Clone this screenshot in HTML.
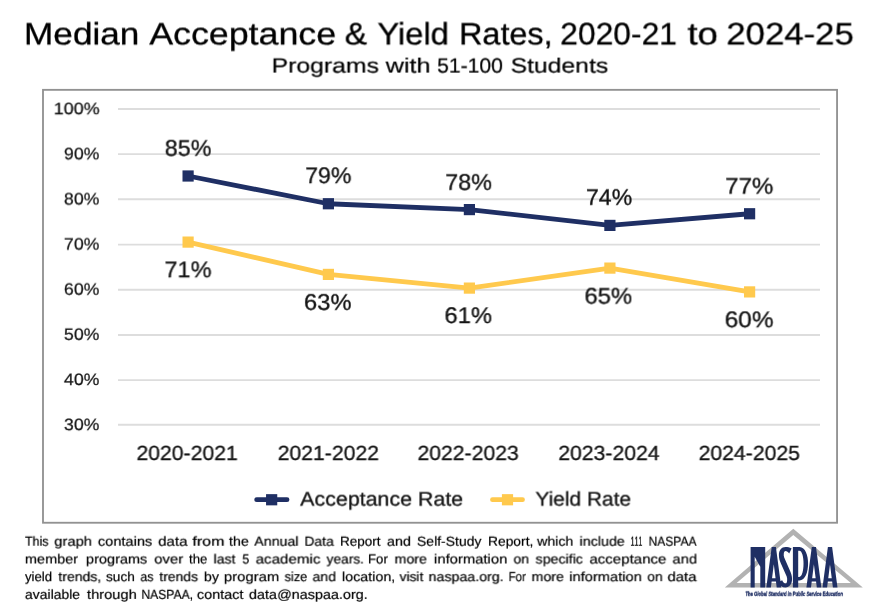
<!DOCTYPE html>
<html><head><meta charset="utf-8"><style>
html,body{margin:0;padding:0;background:#fff;}
body{width:880px;height:608px;position:relative;overflow:hidden;font-family:"Liberation Sans",sans-serif;color:#000;text-rendering:geometricPrecision;}
.w{position:absolute;white-space:nowrap;line-height:1;transform-origin:0 0;will-change:transform;}
svg{position:absolute;left:0;top:0;}
</style></head><body>
<svg width="880" height="608" viewBox="0 0 880 608">
<rect x="43" y="89.85" width="794.05" height="432.9" fill="none" stroke="#929292" stroke-width="1.85"/>
<g stroke="#dddddd" stroke-width="1.9">
<line x1="118" x2="820" y1="109" y2="109"/>
<line x1="118" x2="820" y1="154.1" y2="154.1"/>
<line x1="118" x2="820" y1="199.2" y2="199.2"/>
<line x1="118" x2="820" y1="244.6" y2="244.6"/>
<line x1="118" x2="820" y1="289.7" y2="289.7"/>
<line x1="118" x2="820" y1="335" y2="335"/>
<line x1="118" x2="820" y1="380.1" y2="380.1"/>
<line x1="118" x2="820" y1="424.8" y2="424.8"/>
</g>
<polyline fill="none" stroke="#1f2f64" stroke-width="4.8" stroke-linejoin="round" points="188.100,176 328.400,203.750 469.400,209.600 609.900,225.400 749.600,213.750"/>
<g fill="#1f2f64">
<rect x="182.50" y="170.40" width="11.2" height="11.2"/>
<rect x="322.80" y="198.15" width="11.2" height="11.2"/>
<rect x="463.80" y="204.00" width="11.2" height="11.2"/>
<rect x="604.30" y="219.80" width="11.2" height="11.2"/>
<rect x="744.00" y="208.15" width="11.2" height="11.2"/>
</g>
<polyline fill="none" stroke="#ffc94d" stroke-width="4.8" stroke-linejoin="round" points="188.100,242.100 328.400,274.400 469.400,288.100 609.900,268.100 749.600,291.900"/>
<g fill="#ffc94d">
<rect x="182.50" y="236.50" width="11.2" height="11.2"/>
<rect x="322.80" y="268.80" width="11.2" height="11.2"/>
<rect x="463.80" y="282.50" width="11.2" height="11.2"/>
<rect x="604.30" y="262.50" width="11.2" height="11.2"/>
<rect x="744.00" y="286.30" width="11.2" height="11.2"/>
</g>
<!-- legend -->
<line x1="256.700" x2="287" y1="499.700" y2="499.700" stroke="#1f2f64" stroke-width="4.8" stroke-linecap="round"/>
<rect x="266.05" y="494.15" width="11.2" height="11.2" fill="#1f2f64"/>
<line x1="492.500" x2="522.500" y1="499.700" y2="499.700" stroke="#ffc94d" stroke-width="4.8" stroke-linecap="round"/>
<rect x="501.90" y="494.15" width="11.2" height="11.2" fill="#ffc94d"/>
<!-- logo -->
<g id="logo">
<path d="M793.3 528.800 L862.800 587.400 L724.800 587.400 Z M793.3 535 L736.6 583.1 L850.9 583.1 Z" fill="#b2b2b2" fill-rule="evenodd"/>
<defs><path id="gA" fill-rule="evenodd" d="M-7.5 587.4 L-2.1 547.1 H2.1 L7.5 587.4 H2.9 L2.16 581.5 H-2.16 L-2.9 587.4 Z M-1.75 578.2 H1.75 L0 564.2 Z"/></defs>
<g fill="#1f2f64">
<path d="M750.6 547.1 H765.2 V587.4 H760.3 V566.8 L754.7 556.8 V587.4 H750.6 Z"/>
<use href="#gA" x="773.8"/>
<path fill-rule="evenodd" d="M792.9 547.1 H799.5 C811 547.1 811 580.5 799.5 580.5 H798.2 V587.4 H792.9 Z M798.2 550.8 H799.3 C805 550.8 805 576.9 799.3 576.9 H798.2 Z"/>
<use href="#gA" x="813.9"/>
<use href="#gA" x="830"/>
</g>
<path fill="#1f2f64" d="M791.6 548.6 C789.8 547.4 787.5 547.1 785.5 547.1 C781.5 547.1 778.9 550.5 778.9 555.2 C778.9 558.5 779.8 561 780.9 563.4 L786.7 576.6 C787.2 578 787.3 579.5 787.1 580.7 C786.9 582.5 786.5 583.6 785.5 583.6 C784.2 583.6 782.8 582 782.2 580.3 L778.5 581.9 C779.5 585.5 782 587.4 785.5 587.4 C789.5 587.4 792.05 584 792.05 579 C792.05 576 791.2 573.5 790 570.8 L784.2 557.6 C783.7 556.3 783.6 554.8 783.8 553.5 C784 551.8 784.5 550.9 785.5 550.9 C786.8 550.9 788.2 552 789.2 553.5 Z"/>
</g>
</svg>
<span class="w" style="left:23px;top:18px;font-size:31px;color:#000;-webkit-text-stroke:0.3px #000;transform:translate(0.98px,0.40px) scaleX(1.1352) rotate(0.02deg)">Median</span>
<span class="w" style="left:149px;top:18px;font-size:31px;color:#000;-webkit-text-stroke:0.3px #000;transform:translate(0.25px,0.40px) scaleX(1.1537) rotate(0.02deg)">Acceptance</span>
<span class="w" style="left:344px;top:18px;font-size:31px;color:#000;-webkit-text-stroke:0.3px #000;transform:translate(0.66px,0.40px) scaleX(1.0875) rotate(0.02deg)">&amp;</span>
<span class="w" style="left:377px;top:18px;font-size:31px;color:#000;-webkit-text-stroke:0.3px #000;transform:translate(0.50px,0.40px) scaleX(1.0530) rotate(0.02deg)">Yield</span>
<span class="w" style="left:459px;top:18px;font-size:31px;color:#000;-webkit-text-stroke:0.3px #000;transform:translate(0.16px,0.40px) scaleX(1.0441) rotate(0.02deg)">Rates,</span>
<span class="w" style="left:560px;top:18px;font-size:31px;color:#000;-webkit-text-stroke:0.3px #000;transform:translate(0.22px,0.40px) scaleX(1.0268) rotate(0.02deg)">2020-21</span>
<span class="w" style="left:687px;top:18px;font-size:31px;color:#000;-webkit-text-stroke:0.3px #000;transform:translate(0.50px,0.40px) scaleX(1.1800) rotate(0.02deg)">to</span>
<span class="w" style="left:726px;top:18px;font-size:31px;color:#000;-webkit-text-stroke:0.3px #000;transform:translate(0.38px,0.40px) scaleX(1.1205) rotate(0.02deg)">2024-25</span>
<span class="w" style="left:271px;top:56px;font-size:20.7px;color:#000;-webkit-text-stroke:0.2px #000;transform:translate(0.60px,0.60px) scaleX(1.1966) rotate(0.02deg)">Programs</span>
<span class="w" style="left:385px;top:56px;font-size:20.7px;color:#000;-webkit-text-stroke:0.2px #000;transform:translate(0.70px,0.60px) scaleX(1.2222) rotate(0.02deg)">with</span>
<span class="w" style="left:437px;top:56px;font-size:20.7px;color:#000;-webkit-text-stroke:0.2px #000;transform:translate(0.18px,0.60px) scaleX(1.0222) rotate(0.02deg)">51-100</span>
<span class="w" style="left:510px;top:56px;font-size:20.7px;color:#000;-webkit-text-stroke:0.2px #000;transform:translate(0.60px,0.60px) scaleX(1.1962) rotate(0.02deg)">Students</span>
<span class="w" style="left:53px;top:101px;font-size:16.5px;color:#141414;-webkit-text-stroke:0.25px #141414;transform:translate(0.71px,0.20px) scaleX(1.0854) rotate(0.02deg)">100%</span>
<span class="w" style="left:64px;top:146px;font-size:16.5px;color:#141414;-webkit-text-stroke:0.25px #141414;transform:translate(0.00px,0.33px) scaleX(1.0697) rotate(0.02deg)">90%</span>
<span class="w" style="left:64px;top:191px;font-size:16.5px;color:#141414;-webkit-text-stroke:0.25px #141414;transform:translate(0.00px,0.46px) scaleX(1.0697) rotate(0.02deg)">80%</span>
<span class="w" style="left:64px;top:236px;font-size:16.5px;color:#141414;-webkit-text-stroke:0.25px #141414;transform:translate(0.00px,0.59px) scaleX(1.0697) rotate(0.02deg)">70%</span>
<span class="w" style="left:64px;top:281px;font-size:16.5px;color:#141414;-webkit-text-stroke:0.25px #141414;transform:translate(0.00px,0.72px) scaleX(1.0697) rotate(0.02deg)">60%</span>
<span class="w" style="left:64px;top:326px;font-size:16.5px;color:#141414;-webkit-text-stroke:0.25px #141414;transform:translate(0.00px,0.85px) scaleX(1.0697) rotate(0.02deg)">50%</span>
<span class="w" style="left:64px;top:371px;font-size:16.5px;color:#141414;-webkit-text-stroke:0.25px #141414;transform:translate(0.00px,0.98px) scaleX(1.0697) rotate(0.02deg)">40%</span>
<span class="w" style="left:64px;top:417px;font-size:16.5px;color:#141414;-webkit-text-stroke:0.25px #141414;transform:translate(0.00px,0.11px) scaleX(1.0697) rotate(0.02deg)">30%</span>
<span class="w" style="left:136px;top:444px;font-size:20.5px;color:#141414;-webkit-text-stroke:0.32px #141414;transform:translate(0.50px,0.00px) scaleX(1.0327) rotate(0.02deg)">2020-2021</span>
<span class="w" style="left:277px;top:444px;font-size:20.5px;color:#141414;-webkit-text-stroke:0.32px #141414;transform:translate(0.70px,0.00px) scaleX(1.0327) rotate(0.02deg)">2021-2022</span>
<span class="w" style="left:417px;top:444px;font-size:20.5px;color:#141414;-webkit-text-stroke:0.32px #141414;transform:translate(0.50px,0.00px) scaleX(1.0327) rotate(0.02deg)">2022-2023</span>
<span class="w" style="left:558px;top:444px;font-size:20.5px;color:#141414;-webkit-text-stroke:0.32px #141414;transform:translate(0.35px,0.00px) scaleX(1.0327) rotate(0.02deg)">2023-2024</span>
<span class="w" style="left:698px;top:444px;font-size:20.5px;color:#141414;-webkit-text-stroke:0.32px #141414;transform:translate(0.65px,0.00px) scaleX(1.0327) rotate(0.02deg)">2024-2025</span>
<span class="w" style="left:164px;top:137px;font-size:22.6px;color:#141414;-webkit-text-stroke:0.32px #141414;transform:translate(0.80px,0.70px) scaleX(1.0289) rotate(0.02deg)">85%</span>
<span class="w" style="left:305px;top:165px;font-size:22.6px;color:#141414;-webkit-text-stroke:0.32px #141414;transform:translate(0.23px,0.10px) scaleX(1.0227) rotate(0.02deg)">79%</span>
<span class="w" style="left:445px;top:171px;font-size:22.6px;color:#141414;-webkit-text-stroke:0.32px #141414;transform:translate(0.22px,0.80px) scaleX(1.0341) rotate(0.02deg)">78%</span>
<span class="w" style="left:585px;top:186px;font-size:22.6px;color:#141414;-webkit-text-stroke:0.32px #141414;transform:translate(0.98px,0.80px) scaleX(1.0227) rotate(0.02deg)">74%</span>
<span class="w" style="left:725px;top:175px;font-size:22.6px;color:#141414;-webkit-text-stroke:0.32px #141414;transform:translate(0.18px,0.60px) scaleX(1.0682) rotate(0.02deg)">77%</span>
<span class="w" style="left:164px;top:259px;font-size:22.6px;color:#141414;-webkit-text-stroke:0.32px #141414;transform:translate(0.46px,0.20px) scaleX(1.0398) rotate(0.02deg)">71%</span>
<span class="w" style="left:303px;top:291px;font-size:22.6px;color:#141414;-webkit-text-stroke:0.32px #141414;transform:translate(0.95px,0.80px) scaleX(1.0511) rotate(0.02deg)">63%</span>
<span class="w" style="left:444px;top:305px;font-size:22.6px;color:#141414;-webkit-text-stroke:0.32px #141414;transform:translate(0.45px,0.00px) scaleX(1.0511) rotate(0.02deg)">61%</span>
<span class="w" style="left:584px;top:285px;font-size:22.6px;color:#141414;-webkit-text-stroke:0.32px #141414;transform:translate(0.44px,0.60px) scaleX(1.0568) rotate(0.02deg)">65%</span>
<span class="w" style="left:724px;top:309px;font-size:22.6px;color:#141414;-webkit-text-stroke:0.32px #141414;transform:translate(0.67px,0.20px) scaleX(1.0795) rotate(0.02deg)">60%</span>
<span class="w" style="left:300px;top:490px;font-size:19.8px;color:#141414;-webkit-text-stroke:0.32px #141414;transform:translate(0.30px,0.60px) scaleX(1.0813) rotate(0.02deg)">Acceptance Rate</span>
<span class="w" style="left:535px;top:490px;font-size:19.8px;color:#141414;-webkit-text-stroke:0.32px #141414;transform:translate(0.50px,0.60px) scaleX(1.0556) rotate(0.02deg)">Yield Rate</span>
<span class="w" style="left:745px;top:591px;font-size:6.2px;color:#1f2f64;-webkit-text-stroke:0.35px #1f2f64;font-weight:bold;transform:translate(0.60px,0.90px) scaleX(0.6804) rotate(0.02deg) skewX(-6deg)">The Global Standard in Public Service Education</span>
<span class="w" style="left:25px;top:534px;font-size:13.2px;color:#000;-webkit-text-stroke:0.2px #000;transform:translate(0.00px,0.75px) scaleX(0.9440) rotate(0.02deg)">This</span>
<span class="w" style="left:54px;top:534px;font-size:13.2px;color:#000;-webkit-text-stroke:0.2px #000;transform:translate(0.40px,0.75px) scaleX(1.1176) rotate(0.02deg)">graph</span>
<span class="w" style="left:98px;top:534px;font-size:13.2px;color:#000;-webkit-text-stroke:0.2px #000;transform:translate(0.00px,0.75px) scaleX(1.1020) rotate(0.02deg)">contains</span>
<span class="w" style="left:158px;top:534px;font-size:13.2px;color:#000;-webkit-text-stroke:0.2px #000;transform:translate(0.00px,0.75px) scaleX(1.1538) rotate(0.02deg)">data</span>
<span class="w" style="left:192px;top:534px;font-size:13.2px;color:#000;-webkit-text-stroke:0.2px #000;transform:translate(0.40px,0.75px) scaleX(1.2154) rotate(0.02deg)">from</span>
<span class="w" style="left:229px;top:534px;font-size:13.2px;color:#000;-webkit-text-stroke:0.2px #000;transform:translate(0.00px,0.75px) scaleX(1.0778) rotate(0.02deg)">the</span>
<span class="w" style="left:254px;top:534px;font-size:13.2px;color:#000;-webkit-text-stroke:0.2px #000;transform:translate(0.40px,0.75px) scaleX(1.0732) rotate(0.02deg)">Annual</span>
<span class="w" style="left:304px;top:534px;font-size:13.2px;color:#000;-webkit-text-stroke:0.2px #000;transform:translate(0.40px,0.75px) scaleX(1.0571) rotate(0.02deg)">Data</span>
<span class="w" style="left:340px;top:534px;font-size:13.2px;color:#000;-webkit-text-stroke:0.2px #000;transform:translate(0.00px,0.75px) scaleX(1.0250) rotate(0.02deg)">Report</span>
<span class="w" style="left:387px;top:534px;font-size:13.2px;color:#000;-webkit-text-stroke:0.2px #000;transform:translate(0.00px,0.75px) scaleX(1.0909) rotate(0.02deg)">and</span>
<span class="w" style="left:417px;top:534px;font-size:13.2px;color:#000;-webkit-text-stroke:0.2px #000;transform:translate(0.00px,0.75px) scaleX(1.0590) rotate(0.02deg)">Self-Study</span>
<span class="w" style="left:488px;top:534px;font-size:13.2px;color:#000;-webkit-text-stroke:0.2px #000;transform:translate(0.00px,0.75px) scaleX(1.0476) rotate(0.02deg)">Report,</span>
<span class="w" style="left:537px;top:534px;font-size:13.2px;color:#000;-webkit-text-stroke:0.2px #000;transform:translate(0.00px,0.75px) scaleX(1.0765) rotate(0.02deg)">which</span>
<span class="w" style="left:579px;top:534px;font-size:13.2px;color:#000;-webkit-text-stroke:0.2px #000;transform:translate(0.60px,0.75px) scaleX(1.0810) rotate(0.02deg)">include</span>
<span class="w" style="left:630px;top:534px;font-size:13.2px;color:#000;-webkit-text-stroke:0.2px #000;transform:translate(0.53px,0.75px) scaleX(0.5667) rotate(0.02deg)">1</span>
<span class="w" style="left:634px;top:534px;font-size:13.2px;color:#000;-webkit-text-stroke:0.2px #000;transform:translate(0.42px,0.75px) scaleX(0.5833) rotate(0.02deg)">1</span>
<span class="w" style="left:638px;top:534px;font-size:13.2px;color:#000;-webkit-text-stroke:0.2px #000;transform:translate(0.33px,0.75px) scaleX(0.5667) rotate(0.02deg)">1</span>
<span class="w" style="left:648px;top:534px;font-size:13.2px;color:#000;-webkit-text-stroke:0.2px #000;transform:translate(0.60px,0.75px) scaleX(0.9132) rotate(0.02deg)">NASPAA</span>
<span class="w" style="left:25px;top:552px;font-size:13.2px;color:#000;-webkit-text-stroke:0.2px #000;transform:translate(0.00px,0.50px) scaleX(1.0939) rotate(0.02deg)">member</span>
<span class="w" style="left:86px;top:552px;font-size:13.2px;color:#000;-webkit-text-stroke:0.2px #000;transform:translate(0.00px,0.50px) scaleX(1.1000) rotate(0.02deg)">programs</span>
<span class="w" style="left:154px;top:552px;font-size:13.2px;color:#000;-webkit-text-stroke:0.2px #000;transform:translate(0.40px,0.50px) scaleX(1.1231) rotate(0.02deg)">over</span>
<span class="w" style="left:189px;top:552px;font-size:13.2px;color:#000;-webkit-text-stroke:0.2px #000;transform:translate(0.00px,0.50px) scaleX(1.0000) rotate(0.02deg)">the</span>
<span class="w" style="left:213px;top:552px;font-size:13.2px;color:#000;-webkit-text-stroke:0.2px #000;transform:translate(0.60px,0.50px) scaleX(1.0667) rotate(0.02deg)">last</span>
<span class="w" style="left:242px;top:552px;font-size:13.2px;color:#000;-webkit-text-stroke:0.2px #000;transform:translate(0.40px,0.50px) scaleX(0.9429) rotate(0.02deg)">5</span>
<span class="w" style="left:255px;top:552px;font-size:13.2px;color:#000;-webkit-text-stroke:0.2px #000;transform:translate(0.60px,0.50px) scaleX(1.1500) rotate(0.02deg)">academic</span>
<span class="w" style="left:326px;top:552px;font-size:13.2px;color:#000;-webkit-text-stroke:0.2px #000;transform:translate(0.60px,0.50px) scaleX(1.0400) rotate(0.02deg)">years.</span>
<span class="w" style="left:368px;top:552px;font-size:13.2px;color:#000;-webkit-text-stroke:0.2px #000;transform:translate(0.00px,0.50px) scaleX(1.0000) rotate(0.02deg)">For</span>
<span class="w" style="left:394px;top:552px;font-size:13.2px;color:#000;-webkit-text-stroke:0.2px #000;transform:translate(0.60px,0.50px) scaleX(1.0800) rotate(0.02deg)">more</span>
<span class="w" style="left:434px;top:552px;font-size:13.2px;color:#000;-webkit-text-stroke:0.2px #000;transform:translate(0.00px,0.50px) scaleX(1.1231) rotate(0.02deg)">information</span>
<span class="w" style="left:513px;top:552px;font-size:13.2px;color:#000;-webkit-text-stroke:0.2px #000;transform:translate(0.60px,0.50px) scaleX(1.0571) rotate(0.02deg)">on</span>
<span class="w" style="left:535px;top:552px;font-size:13.2px;color:#000;-webkit-text-stroke:0.2px #000;transform:translate(0.60px,0.50px) scaleX(1.0773) rotate(0.02deg)">specific</span>
<span class="w" style="left:589px;top:552px;font-size:13.2px;color:#000;-webkit-text-stroke:0.2px #000;transform:translate(0.40px,0.50px) scaleX(1.1433) rotate(0.02deg)">acceptance</span>
<span class="w" style="left:672px;top:552px;font-size:13.2px;color:#000;-webkit-text-stroke:0.2px #000;transform:translate(0.60px,0.50px) scaleX(1.1091) rotate(0.02deg)">and</span>
<span class="w" style="left:25px;top:570px;font-size:13.2px;color:#000;-webkit-text-stroke:0.2px #000;transform:translate(0.00px,0.20px) scaleX(1.0000) rotate(0.02deg)">yield</span>
<span class="w" style="left:58px;top:570px;font-size:13.2px;color:#000;-webkit-text-stroke:0.2px #000;transform:translate(0.40px,0.20px) scaleX(1.0650) rotate(0.02deg)">trends,</span>
<span class="w" style="left:106px;top:570px;font-size:13.2px;color:#000;-webkit-text-stroke:0.2px #000;transform:translate(0.00px,0.20px) scaleX(1.0357) rotate(0.02deg)">such</span>
<span class="w" style="left:140px;top:570px;font-size:13.2px;color:#000;-webkit-text-stroke:0.2px #000;transform:translate(0.40px,0.20px) scaleX(0.9429) rotate(0.02deg)">as</span>
<span class="w" style="left:159px;top:570px;font-size:13.2px;color:#000;-webkit-text-stroke:0.2px #000;transform:translate(0.40px,0.20px) scaleX(1.0541) rotate(0.02deg)">trends</span>
<span class="w" style="left:204px;top:570px;font-size:13.2px;color:#000;-webkit-text-stroke:0.2px #000;transform:translate(0.00px,0.20px) scaleX(1.0714) rotate(0.02deg)">by</span>
<span class="w" style="left:224px;top:570px;font-size:13.2px;color:#000;-webkit-text-stroke:0.2px #000;transform:translate(0.00px,0.20px) scaleX(1.1224) rotate(0.02deg)">program</span>
<span class="w" style="left:284px;top:570px;font-size:13.2px;color:#000;-webkit-text-stroke:0.2px #000;transform:translate(0.60px,0.20px) scaleX(0.9739) rotate(0.02deg)">size</span>
<span class="w" style="left:312px;top:570px;font-size:13.2px;color:#000;-webkit-text-stroke:0.2px #000;transform:translate(0.60px,0.20px) scaleX(1.0636) rotate(0.02deg)">and</span>
<span class="w" style="left:342px;top:570px;font-size:13.2px;color:#000;-webkit-text-stroke:0.2px #000;transform:translate(0.00px,0.20px) scaleX(1.0833) rotate(0.02deg)">location,</span>
<span class="w" style="left:399px;top:570px;font-size:13.2px;color:#000;-webkit-text-stroke:0.2px #000;transform:translate(0.60px,0.20px) scaleX(1.0435) rotate(0.02deg)">visit</span>
<span class="w" style="left:428px;top:570px;font-size:13.2px;color:#000;-webkit-text-stroke:0.2px #000;transform:translate(0.60px,0.20px) scaleX(1.0783) rotate(0.02deg)">naspaa.org.</span>
<span class="w" style="left:508px;top:570px;font-size:13.2px;color:#000;-webkit-text-stroke:0.2px #000;transform:translate(0.60px,0.20px) scaleX(0.8700) rotate(0.02deg)">For</span>
<span class="w" style="left:531px;top:570px;font-size:13.2px;color:#000;-webkit-text-stroke:0.2px #000;transform:translate(0.60px,0.20px) scaleX(1.0800) rotate(0.02deg)">more</span>
<span class="w" style="left:569px;top:570px;font-size:13.2px;color:#000;-webkit-text-stroke:0.2px #000;transform:translate(0.40px,0.20px) scaleX(1.1108) rotate(0.02deg)">information</span>
<span class="w" style="left:647px;top:570px;font-size:13.2px;color:#000;-webkit-text-stroke:0.2px #000;transform:translate(0.40px,0.20px) scaleX(1.0429) rotate(0.02deg)">on</span>
<span class="w" style="left:667px;top:570px;font-size:13.2px;color:#000;-webkit-text-stroke:0.2px #000;transform:translate(0.40px,0.20px) scaleX(1.1385) rotate(0.02deg)">data</span>
<span class="w" style="left:25px;top:587px;font-size:13.2px;color:#000;-webkit-text-stroke:0.2px #000;transform:translate(0.00px,0.90px) scaleX(1.0577) rotate(0.02deg)">available</span>
<span class="w" style="left:87px;top:587px;font-size:13.2px;color:#000;-webkit-text-stroke:0.2px #000;transform:translate(0.00px,0.90px) scaleX(1.1111) rotate(0.02deg)">through</span>
<span class="w" style="left:141px;top:587px;font-size:13.2px;color:#000;-webkit-text-stroke:0.2px #000;transform:translate(0.40px,0.90px) scaleX(0.9200) rotate(0.02deg)">NASPAA,</span>
<span class="w" style="left:197px;top:587px;font-size:13.2px;color:#000;-webkit-text-stroke:0.2px #000;transform:translate(0.00px,0.90px) scaleX(1.0930) rotate(0.02deg)">contact</span>
<span class="w" style="left:249px;top:587px;font-size:13.2px;color:#000;-webkit-text-stroke:0.2px #000;transform:translate(0.00px,0.90px) scaleX(1.0926) rotate(0.02deg)">data@naspaa.org.</span>
</body></html>
